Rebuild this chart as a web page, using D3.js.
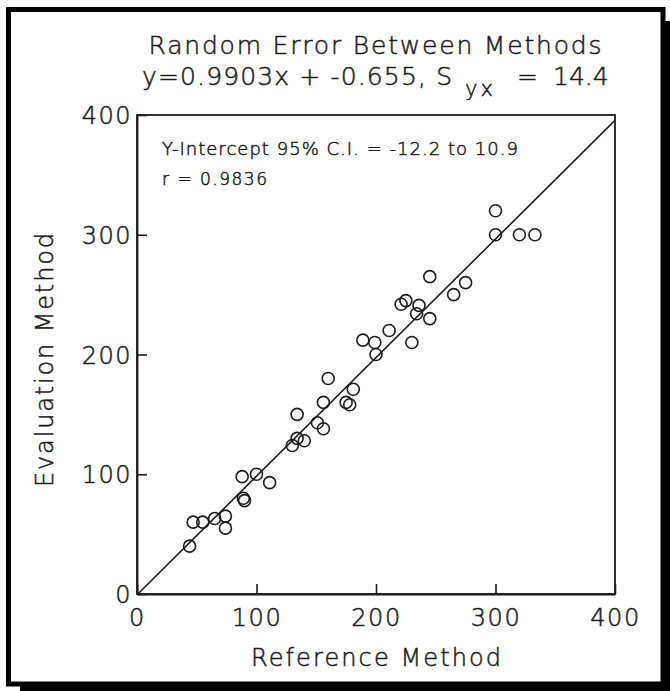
<!DOCTYPE html>
<html>
<head>
<meta charset="utf-8">
<script src="https://cdn.jsdelivr.net/npm/d3@7"></script>
<style>
  html, body { margin: 0; padding: 0; background: #fff; }
  svg { display: block; }
  text { font-family: "DejaVu Sans", sans-serif; font-weight: 200; fill: #1c1c1c; stroke: #1c1c1c; stroke-width: 0.5px; }
</style>
</head>
<body>
<svg id="chart" width="670" height="691"></svg>
<script>
// ---- data ----
const referenceMethod = [300,300,320,333,245,275,265,225,221,236,234,245,211,189,199,230,200,160,181,156,175,178,134,151,156,134,140,130,88,100,111,89,90,47,55,65,74,74,44];
const evaluationMethod = [320,300,300,300,265,260,250,245,242,241,234,230,220,212,210,210,200,180,171,160,160,158,150,143,138,130,128,124,98,100,93,80,78,60,60,63,65,55,40];
const xTicks = [0,100,200,300,400];
const yTicks = [0,100,200,300,400];
const slope = 0.9903;
const intercept = -0.655;
const lineX = [0, 400];
const titleLine1 = "Random Error Between Methods";
const titleLine2a = "y=0.9903x + -0.655, S";
const titleLine2sub = "yx";
const titleLine2eq = "=";
const titleLine2val = "14.4";
const note1 = "Y-Intercept 95% C.I. = -12.2 to 10.9";
const note2 = "r = 0.9836";
const xLabel = "Reference Method";
const yLabel = "Evaluation Method";

const points = referenceMethod.map((x, i) => ({x, y: evaluationMethod[i]}));

const svg = d3.select("#chart");
const ink = "#1c1c1c";

// ---- frame with drop shadow ----
svg.append("rect").attr("x", 20).attr("y", 21).attr("width", 650).attr("height", 670).attr("fill", "#000");
svg.append("rect").attr("x", 8.5).attr("y", 9.5).attr("width", 654.5).attr("height", 674.5)
  .attr("fill", "#fff").attr("stroke", "#000").attr("stroke-width", 5);

// ---- plot area ----
const L = 137, R = 615, T = 115, B = 594;
const x = d3.scaleLinear().domain([0, 400]).range([L, R]);
const y = d3.scaleLinear().domain([0, 400]).range([B, T]);

svg.append("defs").append("clipPath").attr("id", "clip")
  .append("rect").attr("x", L).attr("y", T).attr("width", R - L).attr("height", B - T);

// axes
const xAxis = d3.axisBottom(x).tickValues(xTicks).tickSizeInner(-10).tickSizeOuter(0).tickPadding(15);
const yAxis = d3.axisLeft(y).tickValues(yTicks).tickSizeInner(-10).tickSizeOuter(0).tickPadding(5);

const gx = svg.append("g").attr("transform", `translate(0,${B})`).call(xAxis);
const gy = svg.append("g").attr("transform", `translate(${L},0)`).call(yAxis);
[gx, gy].forEach(g => {
  g.selectAll("path.domain").attr("stroke", ink).attr("stroke-width", 1.8);
  g.selectAll(".tick line").attr("stroke", ink).attr("stroke-width", 1.6);
  g.selectAll(".tick text").attr("fill", ink).attr("stroke", ink).attr("stroke-width", 0.5)
    .attr("font-size", 24)
    .attr("font-family", "DejaVu Sans, sans-serif").attr("font-weight", 200)
    .style("letter-spacing", "1.5px");
});
gx.selectAll(".tick text").attr("dy", "0.72em");
gy.selectAll(".tick text").attr("dy", "0.36em");

// top/right border
svg.append("rect").attr("x", L).attr("y", T).attr("width", R - L).attr("height", B - T)
  .attr("fill", "none").attr("stroke", ink).attr("stroke-width", 1.8);

// regression line
svg.append("line")
  .attr("clip-path", "url(#clip)")
  .attr("x1", x(lineX[0])).attr("y1", y(slope * lineX[0] + intercept))
  .attr("x2", x(lineX[1])).attr("y2", y(slope * lineX[1] + intercept))
  .attr("stroke", ink).attr("stroke-width", 1.6);

// points
svg.append("g").selectAll("circle").data(points).join("circle")
  .attr("cx", d => x(d.x)).attr("cy", d => y(d.y)).attr("r", 6)
  .attr("fill", "none").attr("stroke", ink).attr("stroke-width", 1.6);

// ---- texts ----
svg.append("text").attr("x", 148.5).attr("y", 53.5).attr("font-size", 25)
  .attr("textLength", 453).attr("lengthAdjust", "spacing").text(titleLine1);
svg.append("text").attr("x", 142).attr("y", 85).attr("font-size", 25)
  .attr("textLength", 310).attr("lengthAdjust", "spacing").text(titleLine2a);
svg.append("text").attr("x", 465).attr("y", 96).attr("font-size", 21)
  .style("letter-spacing", "3px").text(titleLine2sub);
svg.append("text").attr("x", 517).attr("y", 85).attr("font-size", 25).text(titleLine2eq);
svg.append("text").attr("x", 553).attr("y", 85).attr("font-size", 25).text(titleLine2val);

svg.append("text").attr("x", 162).attr("y", 155).attr("font-size", 18)
  .attr("textLength", 356).attr("lengthAdjust", "spacing").text(note1);
svg.append("text").attr("x", 162).attr("y", 185).attr("font-size", 17)
  .attr("textLength", 105).attr("lengthAdjust", "spacing").text(note2);

svg.append("text").attr("x", 251).attr("y", 666).attr("font-size", 24)
  .attr("textLength", 250).attr("lengthAdjust", "spacing").text(xLabel);
svg.append("text").attr("transform", "translate(53,487) rotate(-90)").attr("font-size", 24)
  .attr("textLength", 254).attr("lengthAdjust", "spacing").text(yLabel);
</script>
</body>
</html>
